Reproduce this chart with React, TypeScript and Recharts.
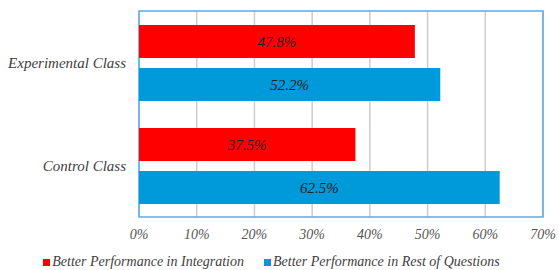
import { Bar, BarChart, CartesianGrid, LabelList, Legend, ReferenceArea, XAxis, YAxis } from "recharts";

const classes = ["Experimental Class", "Control Class"];
const integration = [47.8, 37.5];
const restOfQuestions = [52.2, 62.5];
const xTicks = [0, 10, 20, 30, 40, 50, 60, 70];

const data = classes.map((name, i) => ({
  name,
  integration: integration[i],
  rest: restOfQuestions[i]
}));

const font = "serif";
const RED = "#ff0000";
const BLUE = "#0099d9";

function LegendContent() {
  const items = [
    { label: "Better Performance in Integration", color: RED },
    { label: "Better Performance in Rest of Questions", color: BLUE }
  ];
  return (
    <div style={{ display: "flex", justifyContent: "center", gap: 20, fontFamily: font, fontStyle: "italic", fontSize: 14, color: "#404040", paddingTop: 7 }}>
      {items.map((it) => (
        <span key={it.label} style={{ display: "inline-flex", alignItems: "center" }}>
          <span style={{ width: 7, height: 7, background: it.color, marginRight: 2, display: "inline-block" }} />
          {it.label}
        </span>
      ))}
    </div>
  );
}

export default function App() {
  return (
    <div style={{ position: "absolute", top: 0, left: 0, background: "#fff", fontFamily: font }}>
      <BarChart
        width={559}
        height={270}
        data={data}
        layout="vertical"
        margin={{ top: 11, right: 16, bottom: 0, left: 0 }}
        barCategoryGap="26%"
        barGap={10}
      >
        <CartesianGrid horizontal={false} stroke="#cccccc" strokeWidth={1.5} />
        <XAxis
          type="number"
          domain={[0, 70]}
          ticks={xTicks}
          tickFormatter={(v) => `${v}%`}
          tickLine={false}
          axisLine={false}
          tickSize={0}
          tickMargin={12}
          height={30}
          tick={{ fill: "#555555", fontFamily: font, fontStyle: "italic", fontSize: 14 }}
        />
        <YAxis
          type="category"
          dataKey="name"
          width={139}
          tickLine={false}
          axisLine={false}
          tickSize={0}
          tickMargin={13}
          tick={{ fill: "#404040", fontFamily: font, fontStyle: "italic", fontSize: 15 }}
        />
        <Legend verticalAlign="bottom" height={23} content={<LegendContent />} />
        <Bar dataKey="integration" name="Better Performance in Integration" fill={RED} barSize={33} isAnimationActive={false}>
          <LabelList dataKey="integration" position="center" formatter={(v: number) => `${v}%`} style={{ fill: "#222", fontFamily: font, fontStyle: "italic", fontSize: 15 }} />
        </Bar>
        <Bar dataKey="rest" name="Better Performance in Rest of Questions" fill={BLUE} barSize={33} isAnimationActive={false}>
          <LabelList dataKey="rest" position="center" formatter={(v: number) => `${v}%`} style={{ fill: "#222", fontFamily: font, fontStyle: "italic", fontSize: 15 }} />
        </Bar>
        <ReferenceArea x1={0} x2={70} fill="none" stroke="#5aaae6" strokeWidth={1.5} ifOverflow="visible" />
      </BarChart>
    </div>
  );
}
